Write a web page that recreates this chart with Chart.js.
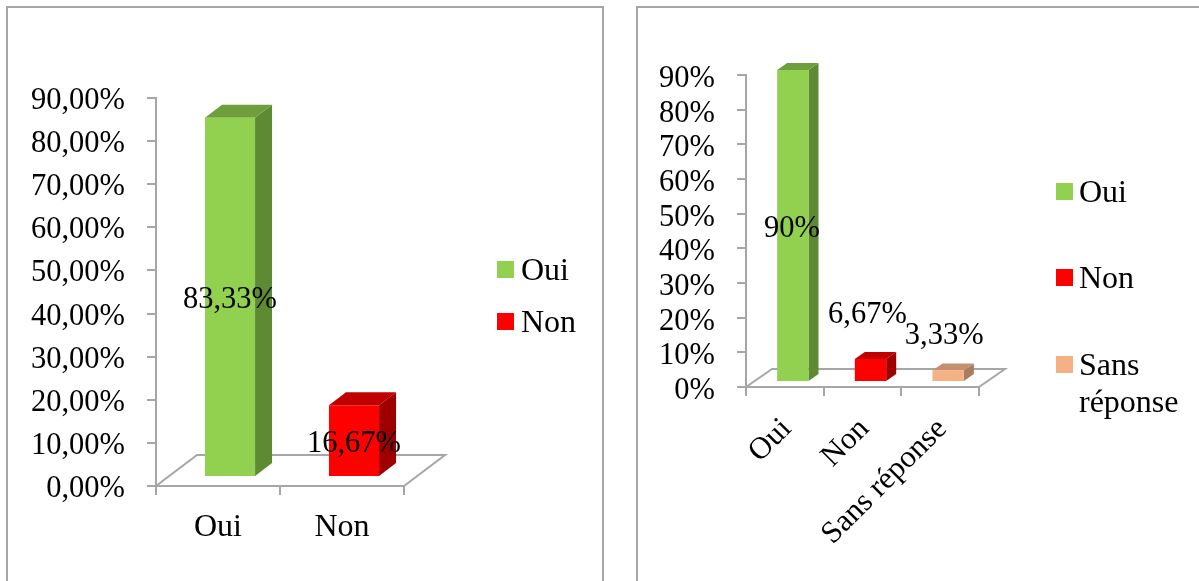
<!DOCTYPE html>
<html>
<head>
<meta charset="utf-8">
<script src="https://cdn.jsdelivr.net/npm/chart.js@4"></script>
<style>
  html, body { margin: 0; padding: 0; background: #fff; overflow: hidden; }
  #page { position: relative; width: 1199px; height: 581px; overflow: hidden; }
  .panel { position: absolute; top: 6px; height: 600px; border: 2px solid #a6a6a6; box-sizing: border-box; }
  #panelA { left: 6px; width: 598px; }
  #panelB { left: 636px; width: 600px; }
  canvas { position: absolute; top: 0; }
  #chartA { left: 0; }
  #chartB { left: 620px; }
</style>
</head>
<body>
<div id="page">
  <div class="panel" id="panelA"></div>
  <div class="panel" id="panelB"></div>
  <canvas id="chartA" width="620" height="581"></canvas>
  <canvas id="chartB" width="579" height="581"></canvas>
</div>
<script>
const categoriesA = ['Oui', 'Non'];
const valuesA = [83.33, 16.67];
const categoriesB = ['Oui', 'Non', 'Sans réponse'];
const valuesB = [90, 6.67, 3.33];
const legendB = [['Oui'], ['Non'], ['Sans', 'réponse']];

const frontColors = ['#92d050', '#ff0000', '#f4b183'];
const topColors = ['#6f9e3d', '#c00000', '#c49070'];
const sideColors = ['#5e8a33', '#9e0000', '#a87c5e'];
const axisGrey = '#a6a6a6';
const serif = '"Liberation Serif", serif';
const valueSize = 30.5;
const legendSize = 32;

const comma = (v, digits) => v.toFixed(digits).replace('.', ',') + '%';
const shortPct = v => Number.isInteger(v) ? v + '%' : comma(v, 2);

// fake 3D: floor plate and box faces, bars pushed off the axis plane
const boxPlugin = {
  id: 'box3d',
  beforeDatasetsDraw(chart, args, opts) {
    const { ctx, chartArea: a } = chart;
    ctx.save();
    ctx.strokeStyle = axisGrey;
    ctx.lineWidth = 2;
    ctx.beginPath();
    ctx.moveTo(a.left, a.bottom);
    ctx.lineTo(a.left + opts.floorX, a.bottom - opts.floorY);
    ctx.lineTo(a.right + opts.floorX, a.bottom - opts.floorY);
    ctx.lineTo(a.right, a.bottom);
    ctx.stroke();

    ctx.translate(opts.shiftX, -opts.shiftY);
    chart.getDatasetMeta(0).data.forEach((bar, i) => {
      const r = bar.x + bar.width / 2, l = bar.x - bar.width / 2;
      ctx.fillStyle = sideColors[i];
      ctx.beginPath();
      ctx.moveTo(r, bar.y);
      ctx.lineTo(r + opts.depthX, bar.y - opts.depthY);
      ctx.lineTo(r + opts.depthX, bar.base - opts.depthY);
      ctx.lineTo(r, bar.base);
      ctx.fill();
      ctx.fillStyle = topColors[i];
      ctx.beginPath();
      ctx.moveTo(l, bar.y);
      ctx.lineTo(l + opts.depthX, bar.y - opts.depthY);
      ctx.lineTo(r + opts.depthX, bar.y - opts.depthY);
      ctx.lineTo(r, bar.y);
      ctx.fill();
    });
  },
  afterDatasetsDraw(chart, args, opts) {
    const { ctx } = chart;
    ctx.restore();

    // value labels
    ctx.save();
    ctx.font = valueSize + 'px ' + serif;
    ctx.fillStyle = '#000';
    ctx.textAlign = 'center';
    ctx.textBaseline = 'middle';
    chart.getDatasetMeta(0).data.forEach((bar, i) => {
      const v = chart.data.datasets[0].data[i];
      const x = bar.x + opts.shiftX + opts.nudges[i][0];
      const y = (bar.y + bar.base) / 2 - opts.shiftY + opts.nudges[i][1];
      ctx.fillText(opts.format(v), x, y);
    });

    // legend on the right, multi-line entries allowed
    ctx.font = legendSize + 'px ' + serif;
    ctx.textAlign = 'left';
    ctx.textBaseline = 'alphabetic';
    opts.legend.forEach((lines, i) => {
      const y = opts.legendY[i];
      ctx.fillStyle = frontColors[i];
      ctx.fillRect(opts.legendX, y, 17, 17);
      ctx.fillStyle = '#000';
      lines.forEach((line, n) => ctx.fillText(line, opts.legendX + opts.legendGap, y + 19 + n * 37));
    });
    ctx.restore();
  }
};

function drawChart(id, labels, values, box, yTicks, xTicks, x3d) {
  const canvas = document.getElementById(id);
  return new Chart(canvas.getContext('2d'), {
    type: 'bar',
    data: {
      labels: labels,
      datasets: [{
        data: values,
        backgroundColor: frontColors.slice(0, values.length),
        borderWidth: 0,
        barPercentage: 0.404,
        categoryPercentage: 1,
        clip: false
      }]
    },
    options: {
      responsive: false,
      animation: false,
      layout: {
        padding: { left: 0, top: box.top, right: canvas.width - box.right, bottom: 0 }
      },
      plugins: {
        legend: { display: false },
        tooltip: { enabled: false },
        box3d: x3d
      },
      scales: {
        y: {
          min: 0,
          max: 90,
          afterFit: s => { s.width = box.left; },
          ticks: Object.assign({
            stepSize: 10,
            autoSkip: false,
            color: '#000',
            padding: 22,
            font: { family: serif, size: valueSize }
          }, yTicks),
          border: { color: axisGrey, width: 2 },
          grid: { drawOnChartArea: false, color: axisGrey, lineWidth: 2, tickLength: 9 }
        },
        x: {
          afterFit: s => { s.height = canvas.height - box.bottom; },
          ticks: Object.assign({
            color: '#000',
            autoSkip: false
          }, xTicks),
          border: { color: axisGrey, width: 2 },
          grid: { drawOnChartArea: false, color: axisGrey, lineWidth: 2, tickLength: 9, offset: true }
        }
      }
    },
    plugins: [boxPlugin]
  });
}

drawChart('chartA', categoriesA, valuesA,
  { left: 156, right: 404, top: 98, bottom: 486 },
  { labelOffset: 3, callback: v => comma(v, 2) },
  { padding: 13, maxRotation: 0, minRotation: 0, font: { family: serif, size: legendSize } },
  {
    floorX: 41, floorY: 31, shiftX: 12, shiftY: 9, depthX: 17, depthY: 13,
    nudges: [[0, 3], [0, 3]], format: v => comma(v, 2),
    legend: categoriesA.map(c => [c]), legendX: 497, legendY: [261, 313], legendGap: 24
  });

drawChart('chartB', categoriesB, valuesB,
  { left: 126, right: 359, top: 75, bottom: 387 },
  { labelOffset: 4, callback: v => v + '%' },
  { padding: 15, labelOffset: 2, maxRotation: 45, minRotation: 45, font: { family: serif, size: 31 } },
  {
    floorX: 26, floorY: 18, shiftX: 8, shiftY: 5, depthX: 10, depthY: 7,
    nudges: [[-1, 3], [-3, -55], [-4, -40]], format: shortPct,
    legend: legendB, legendX: 436, legendY: [183, 269, 356], legendGap: 23
  });
</script>
</body>
</html>
